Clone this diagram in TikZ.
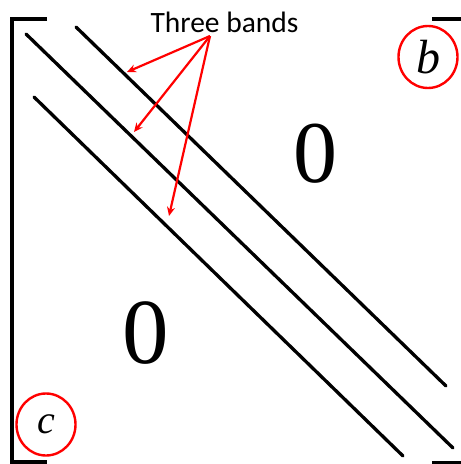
\documentclass[tikz,border=0pt]{standalone}
\usepackage{fontspec}
\setmainfont{Liberation Serif}
\newfontfamily\labfont{Carlito}
\newfontfamily\numfont{Liberation Serif}
\usetikzlibrary{shapes.geometric, arrows, arrows.meta, positioning, calc}
\tikzset{
  band/.style={line width=3.3pt, line cap=round, color=black},
  brack/.style={line width=3.3pt, color=black},
  ptr/.style={-{Stealth[length=9pt, width=8pt]}, line width=2.2pt, color=red},
  tag/.style={ellipse, draw=red, line width=2.4pt, minimum width=59pt, minimum height=62pt, inner sep=0pt},
  zero/.style={inner sep=0pt, font=\numfont\fontsize{88}{88}\selectfont}
}

\begin{document}
\begin{tikzpicture}[x=1pt, y=-1pt]
  \useasboundingbox (0,0) rectangle (461,464);
  % Klammern
  \draw [brack] (47,19) -- (12,19) -- (12,462) -- (47,462);
  \draw [brack] (432,19) -- (462,19);
  \draw [brack] (432,463) -- (462,463);
  % Baender
  \coordinate (up1) at (76,27);
  \coordinate (up2) at (446,386);
  \coordinate (mid1) at (26,34);
  \coordinate (mid2) at (453,448);
  \coordinate (lo1) at (34,97);
  \coordinate (lo2) at (403,456);
  \draw [band] (up1) -- (up2);
  \draw [band] (mid1) -- (mid2);
  \draw [band] (lo1) -- (lo2);
  % Beschriftung
  \node (lbl) [anchor=base, inner sep=0pt, font=\labfont\fontsize{29.5}{30}\selectfont] at (224.5,32) {Three bands};
  \coordinate (src) at (210,36);
  \coordinate (hitup) at (127,72);
  \coordinate (hitmid) at (134,132);
  \coordinate (hitlo) at (169,216);
  \draw [ptr] (src) -- (hitup);
  \draw [ptr] (src) -- (hitmid);
  \draw [ptr] (src) -- (hitlo);
  % Nullen
  \node (z1) [zero] at (315.5,154) {0};
  \node (z2) [zero, font=\numfont\fontsize{93}{93}\selectfont] at (145.5,333.5) {0};
  % Marken
  \node (b) [tag, font=\numfont\itshape\fontsize{48}{48}\selectfont] at (428,57) {b};
  \node (c) [tag, font=\numfont\itshape\fontsize{40}{40}\selectfont] at (46,424.5) {c};
\end{tikzpicture}
\end{document}
